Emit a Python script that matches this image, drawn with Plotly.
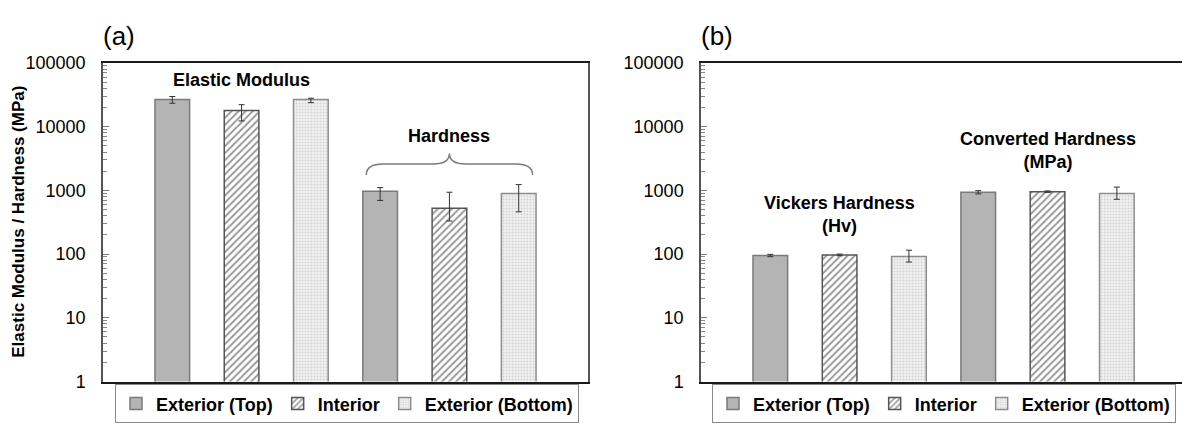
import plotly.graph_objects as go

# ---- data -------------------------------------------------------------
series = ["Exterior (Top)", "Interior", "Exterior (Bottom)"]

groups_a = ["Elastic Modulus", "Hardness"]
vals_a = {
    "Exterior (Top)": [26800, 965],
    "Interior": [18000, 525],
    "Exterior (Bottom)": [26700, 895],
}
err_plus_a = {
    "Exterior (Top)": [2900, 140],
    "Interior": [4100, 410],
    "Exterior (Bottom)": [1200, 335],
}
err_minus_a = {
    "Exterior (Top)": [3500, 270],
    "Interior": [5700, 195],
    "Exterior (Bottom)": [2900, 435],
}

groups_b = ["Vickers Hardness (Hv)", "Converted Hardness (MPa)"]
vals_b = {
    "Exterior (Top)": [95, 935],
    "Interior": [97, 955],
    "Exterior (Bottom)": [92, 890],
}
err_plus_b = {
    "Exterior (Top)": [4, 55],
    "Interior": [3, 25],
    "Exterior (Bottom)": [23, 235],
}
err_minus_b = {
    "Exterior (Top)": [4, 55],
    "Interior": [3, 25],
    "Exterior (Bottom)": [17, 165],
}

tick_vals = [1, 10, 100, 1000, 10000, 100000]
tick_text = ["1", "10", "100", "1000", "10000", "100000"]
minor_vals = [m * 10 ** e for e in range(5) for m in range(2, 10)]

# ---- styling ----------------------------------------------------------
W, H = 1182, 433
FONT = "Liberation Sans, Arial, sans-serif"

styles = {
    "Exterior (Top)": dict(color="#b4b4b4", line=dict(color="#7a7a7a", width=1.5)),
    "Interior": dict(
        color="white",
        line=dict(color="#555555", width=1.5),
        pattern=dict(shape="/", fgcolor="#333333", bgcolor="white", size=5, solidity=0.4),
    ),
    "Exterior (Bottom)": dict(
        color="#efefef",
        line=dict(color="#8c8c8c", width=1.5),
        pattern=dict(shape=".", fgcolor="#b0b0b0", bgcolor="#f2f2f2", size=3, solidity=0.35),
    ),
}


def px_x(p):
    return p / W


def px_y(p):
    return 1 - p / H


fig = go.Figure()

for s in series:
    fig.add_trace(go.Bar(
        x=groups_a, y=vals_a[s], name=s, marker=styles[s],
        error_y=dict(type="data", symmetric=False, array=err_plus_a[s],
                     arrayminus=err_minus_a[s], color="#333333", thickness=1, width=3),
        xaxis="x", yaxis="y", legend="legend",
    ))
for s in series:
    fig.add_trace(go.Bar(
        x=groups_b, y=vals_b[s], name=s, marker=styles[s],
        error_y=dict(type="data", symmetric=False, array=err_plus_b[s],
                     arrayminus=err_minus_b[s], color="#333333", thickness=1, width=3),
        xaxis="x2", yaxis="y2", legend="legend2",
    ))

plot_top, plot_bot = 55.5, 389.5
ydom = [px_y(plot_bot), px_y(plot_top)]

yaxis_common = dict(
    type="log", range=[0, 5], tickvals=tick_vals, ticktext=tick_text,
    ticks="inside", ticklen=6, tickcolor="#777777", tickwidth=1,
    minor=dict(tickvals=minor_vals, ticks="inside", ticklen=4, tickcolor="#888888", tickwidth=1),
    showgrid=False, showline=True, linecolor="#555555", linewidth=1.5,
    tickfont=dict(family=FONT, size=18, color="black"),
    ticklabelstandoff=12, domain=ydom, zeroline=False,
)
xaxis_common = dict(
    type="category", showticklabels=False, ticks="", showgrid=False,
    showline=True, linecolor="#1a1a1a", linewidth=2, mirror=True, zeroline=False,
)

legend_font = dict(family=FONT, size=18, color="black", weight="bold")

fig.update_layout(
    width=W, height=H, margin=dict(l=0, r=0, t=0, b=0),
    paper_bgcolor="white", plot_bgcolor="white",
    barmode="group", bargap=0, bargroupgap=0.5,
    font=dict(family=FONT, color="black"),
    xaxis=dict(xaxis_common, domain=[px_x(103), px_x(588)], range=[-2 / 3, 5 / 3],
               anchor="y"),
    yaxis=dict(yaxis_common, anchor="x", mirror=True),
    xaxis2=dict(xaxis_common, domain=[px_x(701), 1.0], range=[-2 / 3, -2 / 3 + 6.94 / 3],
                anchor="y2"),
    yaxis2=dict(yaxis_common, anchor="x2", mirror=False),
    legend=dict(orientation="h", x=px_x(347), xanchor="center", y=px_y(413), yanchor="middle",
                bordercolor="#8a8a8a", borderwidth=1, bgcolor="white", font=legend_font),
    legend2=dict(orientation="h", x=px_x(944), xanchor="center", y=px_y(413), yanchor="middle",
                 bordercolor="#8a8a8a", borderwidth=1, bgcolor="white", font=legend_font),
)

bold = dict(family=FONT, size=18, color="black", weight="bold")
annotations = [
    dict(text="(a)", x=px_x(101), y=px_y(27), xref="paper", yref="paper",
         xanchor="left", yanchor="middle", showarrow=False, font=dict(family=FONT, size=26)),
    dict(text="(b)", x=px_x(699), y=px_y(27), xref="paper", yref="paper",
         xanchor="left", yanchor="middle", showarrow=False, font=dict(family=FONT, size=26)),
    dict(text="Elastic Modulus / Hardness (MPa)", x=px_x(18.5), y=px_y(222.5),
         xref="paper", yref="paper", textangle=-90, showarrow=False,
         xanchor="center", yanchor="middle", font=dict(family=FONT, size=17, weight="bold")),
    dict(text="Elastic Modulus", x=groups_a[0], y=px_y(73), xref="x", yref="paper",
         showarrow=False, yanchor="middle", font=bold),
    dict(text="Hardness", x=groups_a[1], y=px_y(132), xref="x", yref="paper",
         showarrow=False, yanchor="middle", font=bold),
    dict(text="Converted Hardness<br>(MPa)", x=groups_b[1], y=px_y(147.5), xref="x2", yref="paper",
         showarrow=False, yanchor="middle", font=bold),
    dict(text="Vickers Hardness<br>(Hv)", x=groups_b[0], y=px_y(214.5), xref="x2", yref="paper",
         showarrow=False, yanchor="middle", font=bold),
]
fig.update_layout(annotations=annotations)

# curly brace grouping the hardness bars
y_end, y_flat, y_cusp = px_y(173), px_y(161.5), px_y(150.5)
l, r, c = 0.6, 1.4, 1.0
brace = (f"M {l},{y_end} Q {l},{y_flat} {l + 0.08},{y_flat} L {c - 0.08},{y_flat} "
         f"Q {c},{y_flat} {c},{y_cusp} Q {c},{y_flat} {c + 0.08},{y_flat} "
         f"L {r - 0.08},{y_flat} Q {r},{y_flat} {r},{y_end}")
fig.add_shape(type="path", path=brace, xref="x", yref="paper",
              line=dict(color="#7a7a7a", width=1.5))

fig.write_html("out.html")
